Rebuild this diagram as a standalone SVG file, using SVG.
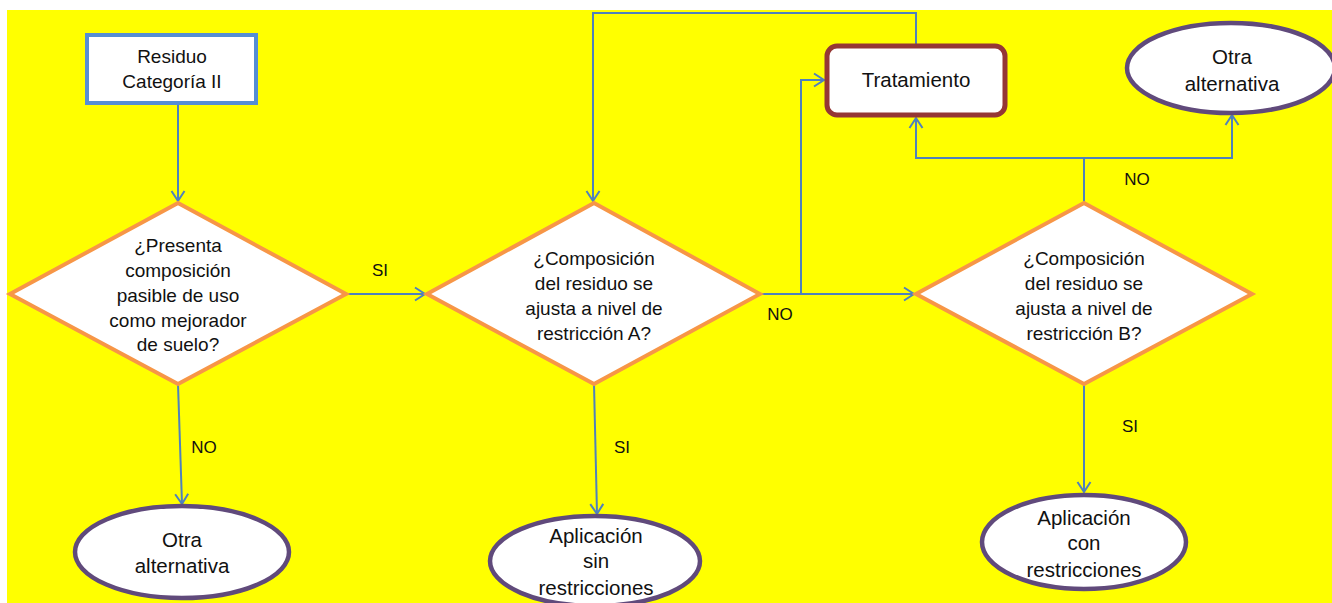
<svg xmlns="http://www.w3.org/2000/svg" width="1332" height="603" viewBox="0 0 1332 603">
<style>
text{font-family:"Liberation Sans",Arial,sans-serif;fill:#111;text-anchor:middle}
.t{font-size:19px}
.e{font-size:20.5px}
.l{font-size:17px}
.dia{fill:#fff;stroke:#f79646;stroke-width:4;stroke-linejoin:miter}
.ell{fill:#fff;stroke:#604a7b;stroke-width:4.5}
.con{fill:none;stroke:#4f81bd;stroke-width:2}
</style>
<defs>
<marker id="arr" markerUnits="userSpaceOnUse" markerWidth="16" markerHeight="16" refX="11" refY="8" orient="auto">
<path d="M1,1.5 L11,8 L1,14.5" fill="none" stroke="#4f81bd" stroke-width="2"/>
</marker>
</defs>
<rect x="0" y="0" width="1332" height="603" fill="#fff"/>
<rect x="7" y="10" width="1325" height="593" fill="#ffff00"/>

<g id="connectors">
<path class="con" d="M178,104 L178,201" marker-end="url(#arr)"/>
<path class="con" d="M346,294 L425,294" marker-end="url(#arr)"/>
<path class="con" d="M178,384 L182,504" marker-end="url(#arr)"/>
<path class="con" d="M594,384 L597,514" marker-end="url(#arr)"/>
<path class="con" d="M760,294 L914,294" marker-end="url(#arr)"/>
<path class="con" d="M801,294 L801,80 L824,80" marker-end="url(#arr)"/>
<path class="con" d="M916,44 L916,13 L593,13 L593,201" marker-end="url(#arr)"/>
<path class="con" d="M1084,203 L1084,158"/>
<path class="con" d="M1084,158 L916,158 L916,118" marker-end="url(#arr)"/>
<path class="con" d="M1084,158 L1232,158 L1232,115" marker-end="url(#arr)"/>
<path class="con" d="M1084,384 L1084,492" marker-end="url(#arr)"/>
<text class="l" x="380" y="276">SI</text>
<text class="l" x="204" y="453">NO</text>
<text class="l" x="622" y="453">SI</text>
<text class="l" x="780" y="320">NO</text>
<text class="l" x="1137" y="185">NO</text>
<text class="l" x="1130" y="432">SI</text>
</g>

<g id="residuo">
<rect x="87" y="35" width="169" height="68" fill="#fff" stroke="#558ed5" stroke-width="4"/>
<text class="t" x="172" y="63">Residuo</text>
<text class="t" x="172" y="88">Categoría  II</text>
</g>

<g id="d1">
<polygon class="dia" points="178,203 346,294 178,384 10,294"/>
<text class="t" x="178" y="252">¿Presenta</text>
<text class="t" x="178" y="277">composición</text>
<text class="t" x="178" y="302">pasible de uso</text>
<text class="t" x="178" y="327">como mejorador</text>
<text class="t" x="178" y="351">de suelo?</text>
</g>

<g id="d2">
<polygon class="dia" points="594,203 760,294 594,384 427,294"/>
<text class="t" x="594" y="265">¿Composición</text>
<text class="t" x="594" y="290">del residuo se</text>
<text class="t" x="594" y="315">ajusta a nivel de</text>
<text class="t" x="594" y="340">restricción A?</text>
</g>

<g id="d3">
<polygon class="dia" points="1084,203 1252,294 1084,384 916,294"/>
<text class="t" x="1084" y="265">¿Composición</text>
<text class="t" x="1084" y="290">del residuo se</text>
<text class="t" x="1084" y="315">ajusta a nivel de</text>
<text class="t" x="1084" y="340">restricción B?</text>
</g>

<g id="tratamiento">
<rect x="827" y="46" width="178" height="69" rx="10" fill="#fff" stroke="#953735" stroke-width="5"/>
<text class="e" x="916" y="87">Tratamiento</text>
</g>

<g id="otra1">
<ellipse class="ell" cx="1231" cy="68" rx="104" ry="45"/>
<text class="e" x="1232" y="64">Otra</text>
<text class="e" x="1232" y="91">alternativa</text>
</g>

<g id="otra2">
<ellipse class="ell" cx="182" cy="552" rx="107" ry="46"/>
<text class="e" x="182" y="547">Otra</text>
<text class="e" x="182" y="573">alternativa</text>
</g>

<g id="aplsin">
<ellipse class="ell" cx="595" cy="561" rx="105" ry="45"/>
<text class="e" x="596" y="543">Aplicación</text>
<text class="e" x="596" y="568">sin</text>
<text class="e" x="596" y="595">restricciones</text>
</g>

<g id="aplcon">
<ellipse class="ell" cx="1084" cy="542" rx="102" ry="47"/>
<text class="e" x="1084" y="525">Aplicación</text>
<text class="e" x="1084" y="550">con</text>
<text class="e" x="1084" y="577">restricciones</text>
</g>
</svg>
